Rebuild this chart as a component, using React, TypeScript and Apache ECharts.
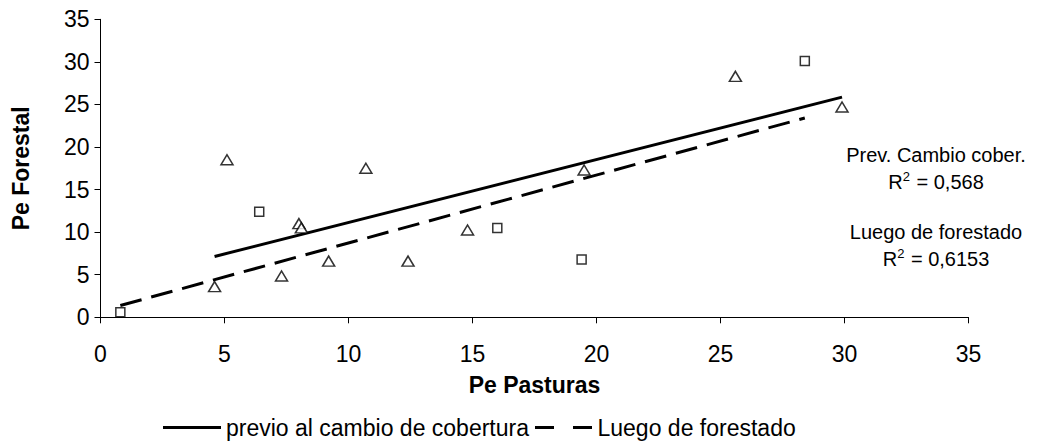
import React, { useEffect, useRef } from "react";
import * as echarts from "echarts";

// Pe Pasturas (x) vs Pe Forestal (y)
const previoX = [4.6, 5.1, 8.0, 8.1, 7.3, 9.2, 10.7, 12.4, 14.8, 19.5, 25.6, 29.9];
const previoY = [3.6, 18.5, 11.0, 10.5, 4.85, 6.6, 17.5, 6.6, 10.25, 17.3, 28.3, 24.7];
const luegoX = [0.8, 6.4, 16.0, 19.4, 28.4];
const luegoY = [0.6, 12.4, 10.5, 6.8, 30.1];

const seriesNames = ["previo al cambio de cobertura", "Luego de forestado"];
const axisTicks = [0, 5, 10, 15, 20, 25, 30, 35];
const r2Labels = ["0,568", "0,6153"];
const noteTitles = ["Prev. Cambio cober.", "Luego de forestado"];

const FONT = '"Liberation Sans", Arial, sans-serif';

// least-squares trend line spanning the range of x
function trend(xs: number[], ys: number[]): number[][] {
  const n = xs.length;
  const mx = xs.reduce((a, b) => a + b, 0) / n;
  const my = ys.reduce((a, b) => a + b, 0) / n;
  let sxy = 0;
  let sxx = 0;
  for (let i = 0; i < n; i++) {
    sxy += (xs[i] - mx) * (ys[i] - my);
    sxx += (xs[i] - mx) * (xs[i] - mx);
  }
  const b = sxy / sxx;
  const a = my - b * mx;
  const x0 = Math.min(...xs);
  const x1 = Math.max(...xs);
  return [
    [x0, a + b * x0],
    [x1, a + b * x1],
  ];
}

const pairs = (xs: number[], ys: number[]) => xs.map((x, i) => [x, ys[i]]);

export default function App() {
  const ref = useRef<HTMLDivElement>(null);

  useEffect(() => {
    if (!ref.current) return;
    const chart = echarts.init(ref.current, null, { renderer: "svg" });

    const axisCommon = {
      type: "value" as const,
      min: axisTicks[0],
      max: axisTicks[axisTicks.length - 1],
      interval: 5,
      splitLine: { show: false },
      axisLine: { show: true, lineStyle: { color: "#000", width: 1 } },
      axisTick: { show: true, inside: false, length: 6, lineStyle: { color: "#000" } },
      nameLocation: "middle" as const,
      nameTextStyle: { fontFamily: FONT, fontSize: 23, fontWeight: "bold" as const, color: "#000" },
    };

    const rich = {
      a: { fontFamily: FONT, fontSize: 20, color: "#000", lineHeight: 24 },
      s: { fontFamily: FONT, fontSize: 13, color: "#000", lineHeight: 24, verticalAlign: "top" as const, padding: [0, 1, 8, 0] },
    };

    const noteX = 936;
    const noteYs = [155, 182, 232, 259];

    chart.setOption({
      animation: false,
      backgroundColor: "#fff",
      grid: { left: 100.5, right: 69.5, top: 19.3, bottom: 128.7, containLabel: false },
      xAxis: {
        ...axisCommon,
        name: "Pe Pasturas",
        nameGap: 56,
        axisLabel: { fontFamily: FONT, fontSize: 23, color: "#000", margin: 25 },
      },
      yAxis: {
        ...axisCommon,
        name: "Pe Forestal",
        nameGap: 68,
        axisLabel: { fontFamily: FONT, fontSize: 23, color: "#000", margin: 11 },
      },
      legend: {
        left: 158,
        top: 411,
        itemWidth: 58,
        itemHeight: 3,
        itemGap: 6,
        textStyle: { fontFamily: FONT, fontSize: 23, color: "#000" },
        data: [
          { name: seriesNames[0], icon: "path://M0,0H58V3H0Z" },
          { name: seriesNames[1], icon: "path://M0,0H19V3H0Z M38,0H57V3H38Z" },
        ],
        itemStyle: { color: "#000" },
      },
      series: [
        {
          name: seriesNames[0],
          type: "line",
          data: trend(previoX, previoY),
          symbol: "none",
          z: 2,
          lineStyle: { color: "#000", width: 3 },
          itemStyle: { color: "#000" },
        },
        {
          name: seriesNames[1],
          type: "line",
          data: trend(luegoX, luegoY),
          symbol: "none",
          z: 2,
          lineStyle: { color: "#000", width: 3, type: [22, 10] },
          itemStyle: { color: "#000" },
        },
        {
          name: "previo-puntos",
          type: "scatter",
          data: pairs(previoX, previoY),
          symbol: "triangle",
          symbolSize: [12, 10],
          z: 3,
          itemStyle: { color: "#fff", borderColor: "#000", borderWidth: 1.5 },
        },
        {
          name: "luego-puntos",
          type: "scatter",
          data: pairs(luegoX, luegoY),
          symbol: "rect",
          symbolSize: 9,
          z: 3,
          itemStyle: { color: "#fff", borderColor: "#000", borderWidth: 1.5 },
        },
      ],
      graphic: [
        {
          type: "text",
          x: noteX,
          y: noteYs[0],
          style: { text: noteTitles[0], font: `20px ${FONT}`, fill: "#000", align: "center", verticalAlign: "middle" },
        },
        {
          type: "text",
          x: noteX,
          y: noteYs[1],
          style: { text: `{a|R}{s|2}{a| = ${r2Labels[0]}}`, rich, align: "center", verticalAlign: "middle" },
        },
        {
          type: "text",
          x: noteX,
          y: noteYs[2],
          style: { text: noteTitles[1], font: `20px ${FONT}`, fill: "#000", align: "center", verticalAlign: "middle" },
        },
        {
          type: "text",
          x: noteX,
          y: noteYs[3],
          style: { text: `{a|R}{s|2}{a| = ${r2Labels[1]}}`, rich, align: "center", verticalAlign: "middle" },
        },
      ],
    });

    return () => chart.dispose();
  }, []);

  return (
    <div
      ref={ref}
      style={{ position: "absolute", left: 0, top: 0, width: 1038, height: 446 }}
    />
  );
}
